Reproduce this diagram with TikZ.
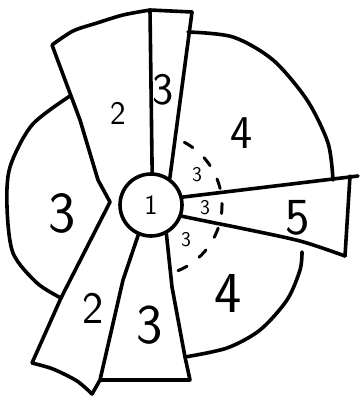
\documentclass[tikz,border=0pt]{standalone}
\usepackage{fontspec}
\tikzset{
  outline/.style={draw=black,line width=3.6pt,line join=round,line cap=round},
  guide/.style={draw=black,line width=3pt,line cap=round,dash pattern=on 10pt off 15.1pt},
  digit/.style={font=\sffamily\fontsize{#1}{#1}\selectfont,inner sep=0pt},
  digit/.default=40,
  hubnode/.style={circle,draw=black,line width=3.6pt,minimum size=62pt,inner sep=0pt,
    font=\sffamily\fontsize{28}{28}\selectfont},
}

\begin{document}
\begin{tikzpicture}[x=1pt,y=-1pt]
  \useasboundingbox (0,0) rectangle (359,398);
  \node[hubnode] (hub) at (151,205) {1};
  \coordinate (notch) at (110,202);
  \coordinate (tipL) at (150,10);
  \coordinate (tipR) at (192,12);
  \coordinate (footL) at (100,380);
  \coordinate (footR) at (190,380);
  % blades
  \draw[outline] (notch) -- (98,180) -- (80,120) -- (52,45)
    plot[smooth] coordinates {(52,45) (73,31) (97,23) (123,15) (150,10)} -- (tipR);
  \draw[outline] (tipL) -- (hub.88);
  \draw[outline] (tipR) -- (hub.55);
  \draw[outline] (hub.14) -- (358,176);
  \draw[outline] (350,176) -- (345,256);
  \draw[outline] (345,256) plot[smooth] coordinates {(345,256) (300,241) (240,228) (215,223)} -- (hub.-20);
  \draw[outline] (notch) -- (61,298) -- (32,363)
    plot[smooth] coordinates {(32,363) (53,369) (77,381) (92,394)} -- (footL) -- (123,280) -- (hub.-113);
  \draw[outline] (footL) -- (footR) -- (185,357) -- (172,287) -- (hub.-62);
  % rim
  \draw[outline] plot[smooth] coordinates {(188,32) (233,37) (273,60) (307,100) (328,143) (333,180)};
  \draw[outline] plot[smooth] coordinates {(302,252) (300,270) (287,300) (260,330) (227,348) (185,357)};
  \draw[outline] plot[smooth] coordinates {(70,96) (32,125) (10,167) (7,207) (13,253) (37,283) (61,298)};
  \draw[guide] (hub.center) ++(-62:71) arc[start angle=-62,end angle=68,radius=71];
  % numbers
  \foreach \nm/\txt/\x/\y/\sz in {upperTwo/2/118/113/33, topThree/3/163/90/45,
      upperFour/4/242/133/47, leftThree/3/62/213/58, rightFive/5/298/218/52,
      lowerFour/4/228/293/58, lowerTwo/2/93/308/45, lowerThree/3/150/325/56,
      ringA/3/197/175/21, ringB/3/205/208/21, ringC/3/186/240/21}
    \node[digit=\sz] (\nm) at (\x,\y) {\txt};
\end{tikzpicture}
\end{document}
